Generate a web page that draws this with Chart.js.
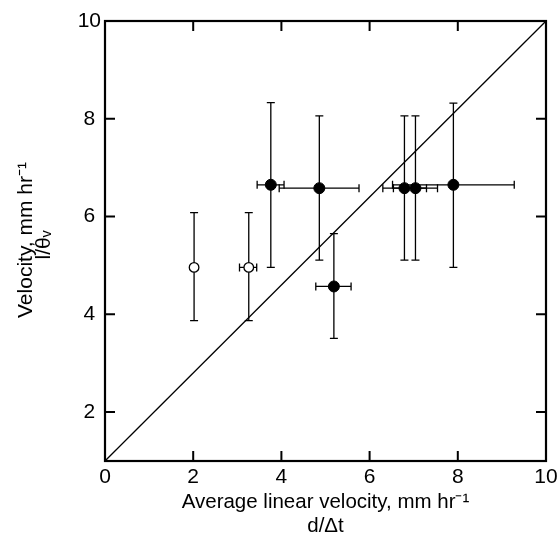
<!DOCTYPE html>
<html>
<head>
<meta charset="utf-8">
<script src="https://cdn.jsdelivr.net/npm/chart.js@4"></script>
<style>
  body { margin: 0; background: #fff; }
  canvas { display: block; }
</style>
</head>
<body>
<canvas id="chart" width="559" height="538"></canvas>
<script>
// values
let xTicks = [0, 2, 4, 6, 8, 10];
let yTicks = [2, 4, 6, 8, 10];

let openX = [2.02, 3.26];
let openY = [4.96, 4.96];
let openXLo = [2.02, 3.05];
let openXHi = [2.02, 3.44];
let openYLo = [3.87, 3.87];
let openYHi = [6.08, 6.08];

let filledX = [3.76, 4.86, 5.19, 6.79, 7.04, 7.90];
let filledY = [6.65, 6.58, 4.57, 6.58, 6.58, 6.65];
let filledXLo = [3.45, 3.95, 4.78, 6.30, 6.54, 6.52];
let filledXHi = [4.06, 5.76, 5.58, 7.29, 7.54, 9.28];
let filledYLo = [4.96, 5.11, 3.51, 5.11, 5.11, 4.96];
let filledYHi = [8.33, 8.06, 5.65, 8.06, 8.06, 8.32];

let lineX = [0, 10];
let lineY = [1, 10];

let xTitle = ['Average linear velocity, mm hr\u207B\u00B9', 'd/\u0394t'];
let yTitle = ['Velocity, mm hr\u207B\u00B9', 'l/\u03B8\u1D65'];

let family = 'Liberation Sans, Arial, Helvetica, sans-serif';

function toPoints(xs, ys, xlo, xhi, ylo, yhi) {
    return xs.map((x, i) => ({
        x: x, y: ys[i],
        xlo: xlo[i], xhi: xhi[i],
        ylo: ylo[i], yhi: yhi[i]
    }));
}

function rotatedText(ctx, text, x, y) {
    ctx.save();
    ctx.translate(x, y);
    ctx.rotate(-Math.PI / 2);
    ctx.fillText(text, 0, 0);
    ctx.restore();
}

// error bars, frame, inward ticks and the two-part y title
let extras = {
    id: 'extras',
    beforeDatasetsDraw(chart) {
        let ctx = chart.ctx;
        let xs = chart.scales.x, ys = chart.scales.y;
        ctx.save();
        ctx.strokeStyle = '#000';
        ctx.lineWidth = 1.3;
        chart.data.datasets.forEach(ds => {
            if (!ds.errorBars) return;
            ds.data.forEach(p => {
                let px = xs.getPixelForValue(p.x), py = ys.getPixelForValue(p.y);
                let cap = 4;
                if (p.yhi !== p.ylo) {
                    let t = ys.getPixelForValue(p.yhi), b = ys.getPixelForValue(p.ylo);
                    ctx.beginPath();
                    ctx.moveTo(px, t); ctx.lineTo(px, b);
                    ctx.moveTo(px - cap, t); ctx.lineTo(px + cap, t);
                    ctx.moveTo(px - cap, b); ctx.lineTo(px + cap, b);
                    ctx.stroke();
                }
                if (p.xhi !== p.xlo) {
                    let l = xs.getPixelForValue(p.xlo), r = xs.getPixelForValue(p.xhi);
                    ctx.beginPath();
                    ctx.moveTo(l, py); ctx.lineTo(r, py);
                    ctx.moveTo(l, py - cap); ctx.lineTo(l, py + cap);
                    ctx.moveTo(r, py - cap); ctx.lineTo(r, py + cap);
                    ctx.stroke();
                }
            });
        });
        ctx.restore();
    },
    afterDraw(chart) {
        let ctx = chart.ctx;
        let a = chart.chartArea;
        let xs = chart.scales.x, ys = chart.scales.y;
        ctx.save();
        ctx.strokeStyle = '#000';
        ctx.lineWidth = 2.2;
        ctx.strokeRect(a.left, a.top, a.right - a.left, a.bottom - a.top);
        let len = 10;
        ctx.lineWidth = 2;
        ctx.beginPath();
        xTicks.forEach(v => {
            if (v === 0 || v === 10) return;
            let px = xs.getPixelForValue(v);
            ctx.moveTo(px, a.bottom); ctx.lineTo(px, a.bottom - len);
            ctx.moveTo(px, a.top); ctx.lineTo(px, a.top + len);
        });
        yTicks.forEach(v => {
            if (v === 10) return;
            let py = ys.getPixelForValue(v);
            ctx.moveTo(a.left, py); ctx.lineTo(a.left + len, py);
            ctx.moveTo(a.right, py); ctx.lineTo(a.right - len, py);
        });
        ctx.stroke();

        // y title: main label and the symbol beside it, rotated
        ctx.fillStyle = '#000';
        ctx.textAlign = 'center';
        ctx.textBaseline = 'alphabetic';
        ctx.font = '21px ' + family;
        rotatedText(ctx, yTitle[0], 32, 240);
        rotatedText(ctx, yTitle[1], 50, 245);
        ctx.restore();
    }
};

new Chart(document.getElementById('chart'), {
    type: 'scatter',
    data: {
        datasets: [
            {
                type: 'line',
                data: lineX.map((x, i) => ({ x: x, y: lineY[i] })),
                borderColor: '#000',
                borderWidth: 1.3,
                pointRadius: 0,
                fill: false
            },
            {
                data: toPoints(openX, openY, openXLo, openXHi, openYLo, openYHi),
                errorBars: true,
                pointRadius: 4.8,
                pointBackgroundColor: '#fff',
                pointBorderColor: '#000',
                pointBorderWidth: 1.3
            },
            {
                data: toPoints(filledX, filledY, filledXLo, filledXHi, filledYLo, filledYHi),
                errorBars: true,
                pointRadius: 5.5,
                pointBackgroundColor: '#000',
                pointBorderColor: '#000',
                pointBorderWidth: 1
            }
        ]
    },
    options: {
        responsive: false,
        animation: false,
        events: [],
        layout: { padding: { top: 21, right: 13, left: 0, bottom: 0 } },
        plugins: { legend: { display: false }, tooltip: { enabled: false } },
        scales: {
            x: {
                type: 'linear',
                min: 0, max: 10,
                afterBuildTicks: s => { s.ticks = xTicks.map(v => ({ value: v })); },
                afterFit: s => { s.height = 77; },
                grid: { display: false },
                border: { display: false },
                ticks: { color: '#000', font: { family: family, size: 21 }, padding: -4, maxRotation: 0 },
                title: {
                    display: true,
                    text: xTitle,
                    color: '#000',
                    font: { family: family, size: 20.5, lineHeight: 1.15 },
                    padding: { top: 0, bottom: 0 }
                }
            },
            y: {
                type: 'linear',
                min: 1, max: 10,
                afterBuildTicks: s => { s.ticks = yTicks.map(v => ({ value: v })); },
                afterFit: s => { s.width = 105; },
                grid: { display: false },
                border: { display: false },
                ticks: { color: '#000', font: { family: family, size: 21 }, padding: -4, crossAlign: 'center' }
            }
        }
    },
    plugins: [extras]
});
</script>
</body>
</html>
